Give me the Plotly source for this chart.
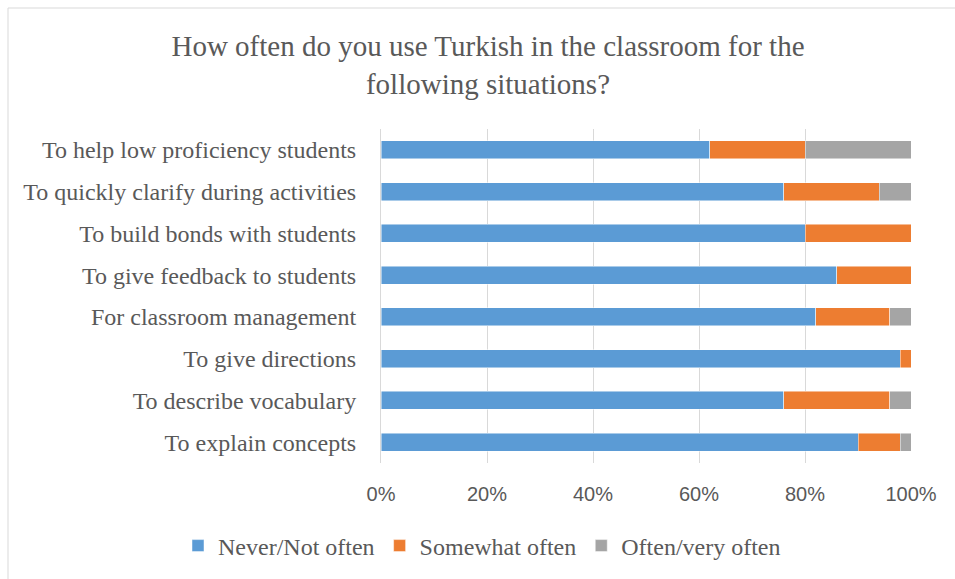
import plotly.graph_objects as go

categories = [
    "To help low proficiency students",
    "To quickly clarify during activities",
    "To build bonds with students",
    "To give feedback to students",
    "For classroom management",
    "To give directions",
    "To describe vocabulary",
    "To explain concepts",
]
never = [62, 76, 80, 86, 82, 98, 76, 90]
somewhat = [18, 18, 20, 14, 14, 2, 20, 8]
often = [20, 6, 0, 0, 4, 0, 4, 2]

series_names = ["Never/Not often", "Somewhat often", "Often/very often"]
colors = ["#5B9BD5", "#ED7D31", "#A5A5A5"]
x_ticks = [0, 20, 40, 60, 80, 100]
x_tick_labels = ["0%", "20%", "40%", "60%", "80%", "100%"]

fig = go.Figure()
for name, vals, col in zip(series_names, [never, somewhat, often], colors):
    fig.add_trace(go.Bar(
        y=categories, x=vals, name=name, orientation="h",
        marker=dict(color=col, line=dict(color="rgba(255,255,255,0.6)", width=0.8)),
    ))

fig.update_layout(
    width=955, height=579,
    barmode="stack", bargap=0.57,
    paper_bgcolor="white", plot_bgcolor="white",
    margin=dict(l=381, r=44, t=129, b=116, autoexpand=False),
    title=dict(
        text="How often do you use Turkish in the classroom for the<br>following situations?",
        x=488 / 955, xanchor="center", xref="container",
        y=1 - 56 / 579, yanchor="top", yref="container",
        font=dict(family="Liberation Serif", size=29, color="#595959"),
    ),
    xaxis=dict(
        range=[0, 100], tickvals=x_ticks, ticktext=x_tick_labels,
        showgrid=True, gridcolor="#D9D9D9", gridwidth=1,
        zeroline=False, showline=False,
        tickfont=dict(family="Liberation Sans", size=20, color="#595959"),
        ticklabelstandoff=17,
    ),
    yaxis=dict(
        autorange="reversed", showgrid=False, zeroline=False,
        showline=True, linecolor="#D9D9D9", linewidth=1,
        tickfont=dict(family="Liberation Serif", size=24, color="#595959"),
        ticklabelstandoff=19,
    ),
    legend=dict(
        orientation="h",
        x=(178 - 381) / 530, xanchor="left",
        y=(463 - 546) / 334, yanchor="middle",
        font=dict(family="Liberation Serif", size=24, color="#595959"),
        traceorder="normal", itemwidth=30,
    ),
    shapes=[dict(
        type="rect", xref="paper", yref="paper",
        x0=(8 - 381) / 530, x1=1.3, y0=-0.6, y1=(463 - 8) / 334,
        line=dict(color="#D9D9D9", width=1), fillcolor="rgba(0,0,0,0)",
        layer="below",
    )],
)

fig.write_html("out.html")
